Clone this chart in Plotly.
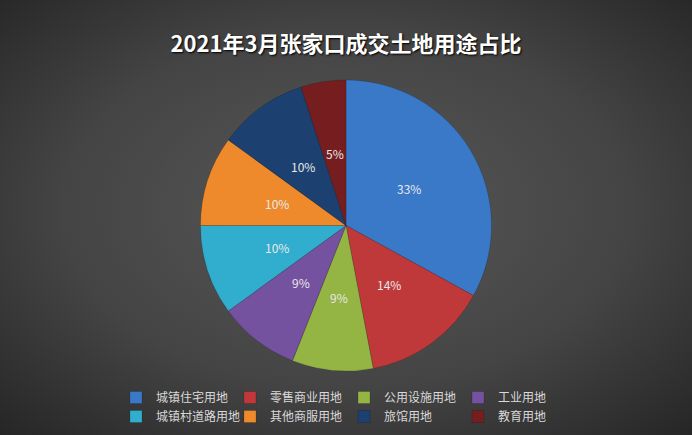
import base64
import math
import plotly.graph_objects as go

labels = ["城镇住宅用地", "零售商业用地", "公用设施用地", "工业用地",
          "城镇村道路用地", "其他商服用地", "旅馆用地", "教育用地"]
values = [33, 14, 9, 9, 10, 10, 10, 5]
colors = ["#3A78C8", "#C0393A", "#94B444", "#7552A0",
          "#31ADCE", "#EE8A2B", "#1C406F", "#761E1F"]
title_text = "2021年3月张家口成交土地用途占比"

W, H = 692, 435
ML, MR = 106, 130
PW = W - ML - MR

# pie geometry in pixels
CX, CY, R = 346, 225.5, 145.5

svg = (
    '<svg xmlns="http://www.w3.org/2000/svg" width="692" height="435" viewBox="0 0 692 435" preserveAspectRatio="none">'
    '<defs><radialGradient id="g" cx="50%" cy="48%" r="75%">'
    '<stop offset="0" stop-color="#585858"/>'
    '<stop offset="0.55" stop-color="#444444"/>'
    '<stop offset="1" stop-color="#232323"/>'
    '</radialGradient></defs>'
    '<rect width="692" height="435" fill="url(#g)"/></svg>'
)
bg_src = "data:image/svg+xml;base64," + base64.b64encode(svg.encode()).decode()


def px_x(x):
    return (x - ML) / PW


def px_y(y):
    return 1 - y / H


fig = go.Figure(go.Pie(
    labels=labels,
    values=values,
    sort=False,
    direction="clockwise",
    rotation=0,
    marker=dict(colors=colors, line=dict(color="rgba(0,0,0,0.25)", width=0.6)),
    textinfo="none",
    hoverinfo="label+percent",
    domain=dict(x=[px_x(CX - R), px_x(CX + R)], y=[px_y(CY + R), px_y(CY - R)]),
))

# data labels at half radius, mid-angle of each slice (derived from values)
total = sum(values)
annotations = []
cum = 0
for v in values:
    mid = (cum + v / 2) / total * 2 * math.pi
    cum += v
    lx = CX + 0.5 * R * math.sin(mid)
    ly = CY - 0.5 * R * math.cos(mid)
    annotations.append(dict(
        text=f"{round(v / total * 100)}%",
        x=px_x(lx), y=px_y(ly), xref="paper", yref="paper",
        xanchor="center", yanchor="middle", showarrow=False,
        font=dict(family="Noto Sans CJK SC, sans-serif", size=12, color="#e8e8e8"),
    ))

fig.update_layout(
    width=W, height=H,
    margin=dict(l=ML, r=MR, t=0, b=0),
    paper_bgcolor="#3c3c3c",
    plot_bgcolor="rgba(0,0,0,0)",
    images=[dict(source=bg_src, xref="paper", yref="paper",
                 x=-ML / PW, y=1, sizex=W / PW, sizey=1,
                 xanchor="left", yanchor="top", sizing="stretch", layer="below")],
    annotations=annotations,
    title=dict(
        text="<b>" + title_text + "</b>",
        x=0.5, xref="container", xanchor="center",
        y=1 - 44 / H, yref="container", yanchor="middle",
        font=dict(family="Noto Sans CJK SC, sans-serif", size=22, color="#ffffff",
                  shadow="1px 1px 2px #000000"),
    ),
    showlegend=True,
    legend=dict(
        orientation="h",
        x=px_x(116), xanchor="left",
        y=px_y(383), yanchor="top",
        entrywidth=69, entrywidthmode="pixels",
        font=dict(family="Noto Sans CJK SC, sans-serif", size=12, color="#d9d9d9"),
        bgcolor="rgba(0,0,0,0)",
        traceorder="normal",
        tracegroupgap=0,
    ),
)

fig.write_html("out.html")
